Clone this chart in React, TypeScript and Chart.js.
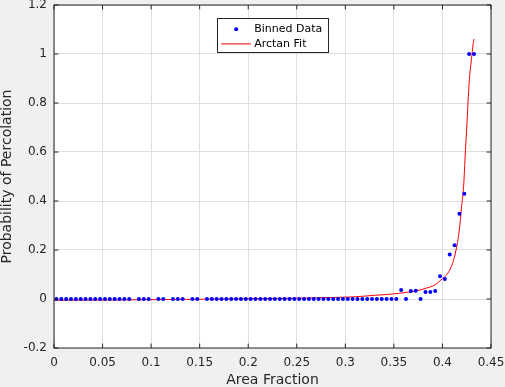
import React, { useEffect, useRef } from "react";
import { Chart, registerables } from "chart.js";

Chart.register(...registerables);

// ---------- data ----------
const binX = [
  0.0025, 0.0075, 0.0125, 0.0175, 0.0225, 0.0275, 0.0325, 0.0375, 0.0425, 0.0475,
  0.0525, 0.0575, 0.0625, 0.0675, 0.0725, 0.0775,
  0.0875, 0.0925, 0.0975,
  0.1075, 0.1125,
  0.1225, 0.1275, 0.1325,
  0.1425, 0.1475,
  0.1575, 0.1625, 0.1675, 0.1725, 0.1775, 0.1825, 0.1875, 0.1925, 0.1975, 0.2025,
  0.2075, 0.2125, 0.2175, 0.2225, 0.2275, 0.2325, 0.2375, 0.2425, 0.2475, 0.2525,
  0.2575, 0.2625, 0.2675, 0.2725, 0.2775, 0.2825, 0.2875, 0.2925, 0.2975, 0.3025,
  0.3075, 0.3125, 0.3175, 0.3225, 0.3275, 0.3325, 0.3375, 0.3425, 0.3475, 0.3525,
  0.3575, 0.3625, 0.3675, 0.3725, 0.3775, 0.3825, 0.3875, 0.3925, 0.3975, 0.4025,
  0.4075, 0.4125, 0.4175, 0.4225, 0.4275, 0.4325,
];
const binY = [
  0, 0, 0, 0, 0, 0, 0, 0, 0, 0,
  0, 0, 0, 0, 0, 0,
  0, 0, 0,
  0, 0,
  0, 0, 0,
  0, 0,
  0, 0, 0, 0, 0, 0, 0, 0, 0, 0,
  0, 0, 0, 0, 0, 0, 0, 0, 0, 0,
  0, 0, 0, 0, 0, 0, 0, 0, 0, 0,
  0, 0, 0, 0, 0, 0, 0, 0, 0, 0,
  0.037, 0, 0.033, 0.034, 0, 0.029, 0.029, 0.033, 0.093, 0.082,
  0.182, 0.219, 0.348, 0.43, 1.0, 1.0,
];

const fitX = [
  0, 0.06, 0.12, 0.18, 0.23, 0.26, 0.285, 0.31, 0.33, 0.345,
  0.355, 0.363, 0.373, 0.383, 0.392, 0.3985, 0.4055, 0.4105, 0.414, 0.4174,
  0.4198, 0.4218, 0.4236, 0.4249, 0.4263, 0.4277, 0.4294, 0.4305, 0.4315, 0.4325,
];
const fitY = [
  -0.005, -0.004, -0.002, 0.0, 0.002, 0.004, 0.006, 0.009, 0.015, 0.019,
  0.023, 0.027, 0.033, 0.044, 0.057, 0.078, 0.105, 0.146, 0.2, 0.282,
  0.38, 0.46, 0.6, 0.69, 0.8, 0.895, 0.963, 1.0, 1.038, 1.061,
];

const xTicks = [0, 0.05, 0.1, 0.15, 0.2, 0.25, 0.3, 0.35, 0.4, 0.45];
const xTickLabels = ["0", "0.05", "0.1", "0.15", "0.2", "0.25", "0.3", "0.35", "0.4", "0.45"];
const yTicks = [-0.2, 0, 0.2, 0.4, 0.6, 0.8, 1, 1.2];
const yTickLabels = ["-0.2", "0", "0.2", "0.4", "0.6", "0.8", "1", "1.2"];

const seriesLabels = ["Binned Data", "Arctan Fit"];
const xTitle = "Area Fraction";
const yTitle = "Probability of Percolation";

// ---------- styles ----------
const FONT = "'DejaVu Sans', sans-serif";
const AXIS_COLOR = "#262626";
const GRID_COLOR = "#dfdfdf";
const FIG_BG = "#f0f0f0";

const bgPlugin = {
  id: "matlabBg",
  beforeDraw(chart: any) {
    const { ctx, chartArea: ca, width, height } = chart;
    ctx.save();
    ctx.fillStyle = FIG_BG;
    ctx.fillRect(0, 0, width, height);
    ctx.fillStyle = "#ffffff";
    ctx.fillRect(ca.left, ca.top, ca.right - ca.left, ca.bottom - ca.top);
    ctx.restore();
  },
};

const framePlugin = {
  id: "matlabFrame",
  afterDatasetsDraw(chart: any) {
    const { ctx, chartArea: ca } = chart;
    const xs = chart.scales.x;
    const ys = chart.scales.y;
    const tl = 4.4;
    ctx.save();
    ctx.strokeStyle = AXIS_COLOR;
    ctx.lineWidth = 1;
    ctx.beginPath();
    for (const v of xTicks) {
      const px = xs.getPixelForValue(v);
      ctx.moveTo(px, ca.bottom);
      ctx.lineTo(px, ca.bottom - tl);
      ctx.moveTo(px, ca.top);
      ctx.lineTo(px, ca.top + tl);
    }
    for (const v of yTicks) {
      const py = ys.getPixelForValue(v);
      ctx.moveTo(ca.left, py);
      ctx.lineTo(ca.left + tl, py);
      ctx.moveTo(ca.right, py);
      ctx.lineTo(ca.right - tl, py);
    }
    ctx.stroke();
    ctx.strokeRect(ca.left, ca.top, ca.right - ca.left, ca.bottom - ca.top);
    ctx.restore();
  },
};

const legendPlugin = {
  id: "matlabLegend",
  afterDraw(chart: any) {
    const { ctx, chartArea: ca } = chart;
    const ds = chart.data.datasets;
    const w = 111;
    const h = 34;
    const cx = (ca.left + ca.right) / 2;
    const x0 = Math.round(cx - w / 2) + 0.5;
    const y0 = Math.round(ca.top + 13) + 0.5;
    ctx.save();
    ctx.fillStyle = "#ffffff";
    ctx.fillRect(x0, y0, w, h);
    ctx.strokeStyle = AXIS_COLOR;
    ctx.lineWidth = 1;
    ctx.strokeRect(x0, y0, w, h);

    const r1 = y0 + 10.7;
    const r2 = y0 + 25.4;
    // marker row
    ctx.fillStyle = ds[0].backgroundColor;
    ctx.beginPath();
    ctx.arc(x0 + 18.7, r1, 2, 0, Math.PI * 2);
    ctx.fill();
    // line row
    ctx.strokeStyle = ds[1].borderColor;
    ctx.lineWidth = 1;
    ctx.beginPath();
    ctx.moveTo(x0 + 3.7, r2);
    ctx.lineTo(x0 + 33.4, r2);
    ctx.stroke();

    ctx.fillStyle = "#000000";
    ctx.font = `11px ${FONT}`;
    ctx.textBaseline = "middle";
    ctx.textAlign = "left";
    ctx.fillText(ds[0].label, x0 + 36.7, r1);
    ctx.fillText(ds[1].label, x0 + 36.7, r2);
    ctx.restore();
  },
};

export default function App() {
  const ref = useRef<HTMLCanvasElement | null>(null);

  useEffect(() => {
    if (!ref.current) return;
    document.body.style.margin = "0";
    const chart = new Chart(ref.current, {
      type: "scatter",
      data: {
        datasets: [
          {
            label: seriesLabels[0],
            data: binX.map((x, i) => ({ x, y: binY[i] })),
            backgroundColor: "#0000ff",
            borderColor: "#0000ff",
            pointRadius: 2,
            pointBorderWidth: 0,
            showLine: false,
            order: 1,
          },
          {
            label: seriesLabels[1],
            type: "line",
            data: fitX.map((x, i) => ({ x, y: fitY[i] })),
            borderColor: "#ff0000",
            backgroundColor: "#ff0000",
            borderWidth: 1,
            pointRadius: 0,
            showLine: true,
            fill: false,
            cubicInterpolationMode: "monotone",
            order: 2,
          },
        ],
      } as any,
      options: {
        responsive: false,
        animation: false,
        devicePixelRatio: 1,
        layout: { padding: { left: 0, right: 14, top: 5, bottom: 0 } },
        plugins: {
          legend: { display: false },
          tooltip: { enabled: false },
        },
        scales: {
          x: {
            type: "linear",
            position: "bottom",
            min: 0,
            max: 0.45,
            afterBuildTicks: (s: any) => {
              s.ticks = xTicks.map((v) => ({ value: v }));
            },
            afterFit: (s: any) => {
              s.height = 39;
              s.paddingLeft = 0;
              s.paddingRight = 0;
            },
            ticks: {
              autoSkip: false,
              maxRotation: 0,
              padding: 8,
              color: AXIS_COLOR,
              font: { family: FONT, size: 12 },
              callback: (_v: any, i: number) => xTickLabels[i],
            },
            grid: { color: GRID_COLOR, drawTicks: false, lineWidth: 1 },
            border: { display: false },
            title: {
              display: true,
              text: xTitle,
              color: AXIS_COLOR,
              font: { family: FONT, size: 14, lineHeight: 1 },
              padding: 0,
            },
          },
          y: {
            type: "linear",
            position: "left",
            min: -0.2,
            max: 1.2,
            afterBuildTicks: (s: any) => {
              s.ticks = yTicks.map((v) => ({ value: v }));
            },
            afterFit: (s: any) => {
              s.width = 54;
              s.paddingTop = 0;
              s.paddingBottom = 0;
            },
            ticks: {
              autoSkip: false,
              padding: 7,
              color: AXIS_COLOR,
              font: { family: FONT, size: 12 },
              callback: (_v: any, i: number) => yTickLabels[i],
            },
            grid: { color: GRID_COLOR, drawTicks: false, lineWidth: 1 },
            border: { display: false },
            title: {
              display: true,
              text: yTitle,
              color: AXIS_COLOR,
              font: { family: FONT, size: 14, lineHeight: 1 },
              padding: 0,
            },
          },
        },
      } as any,
      plugins: [bgPlugin, framePlugin, legendPlugin],
    });
    return () => chart.destroy();
  }, []);

  return (
    <div style={{ position: "absolute", left: 0, top: 0, width: 505, height: 387, background: FIG_BG }}>
      <canvas ref={ref} width={505} height={387} style={{ display: "block" }} />
    </div>
  );
}
